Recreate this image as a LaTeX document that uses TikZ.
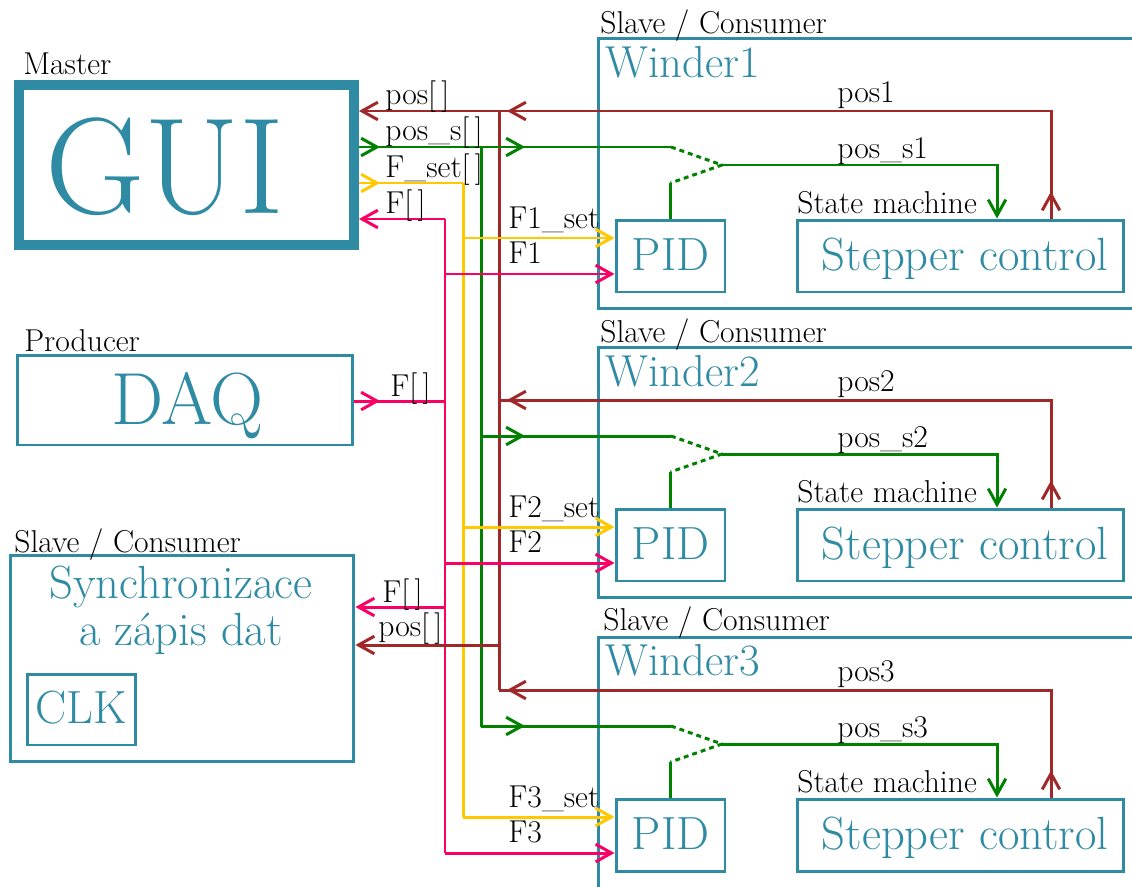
\documentclass[tikz,border=0pt]{standalone}
\usetikzlibrary{arrows.meta}
\definecolor{teal1}{RGB}{46,139,163}
\definecolor{wred}{RGB}{160,40,40}
\definecolor{wgreen}{RGB}{0,130,0}
\definecolor{wyellow}{RGB}{255,200,0}
\definecolor{wpink}{RGB}{250,0,100}
\tikzset{
 box/.style={draw=teal1, line width=1.7pt, rectangle, inner sep=0pt},
 lbl/.style={font=\fontsize{18}{21}\selectfont, inner sep=0pt, anchor=base west},
 ttl/.style={font=\fontsize{25.5}{30}\selectfont, text=teal1, inner sep=0pt, anchor=base west},
 big/.style={font=\fontsize{26.5}{30}\selectfont, text=teal1, inner sep=0pt, anchor=base},
 wire/.style={line width=1.7pt},
 tip/.style={-{Straight Barb[length=9pt,width=10pt]}},
 sw/.style={dash pattern=on 2.8pt off 2.3pt},
}
\begin{document}
\begin{tikzpicture}[x=0.02cm,y=-0.02cm]
\useasboundingbox (0,0) rectangle (1132,886);
\clip (0,0) rectangle (1132,886);
\fill[white] (0,0) rectangle (1132,886);

% left boxes
\node[box, line width=5.7pt, minimum width=6.70cm, minimum height=3.2cm] (gui) at (186.5,165) {};
\node[big, font=\fontsize{78}{86}\selectfont] (guit) at (165,213) {GUI};
\node[lbl] (mast) at (23,74) {Master};

\node[box, minimum width=6.72cm, minimum height=1.8cm] (daq) at (185,400) {};
\node[big, font=\fontsize{42}{48}\selectfont] (daqt) at (187.5,424) {DAQ};
\node[lbl] (prod) at (24,351) {Producer};

\node[box, minimum width=6.88cm, minimum height=4.14cm] (sync) at (182,658.5) {};
\node[big, font=\fontsize{26.5}{30}\selectfont] (synct1) at (181,598) {Synchronizace};
\node[big, font=\fontsize{26.5}{30}\selectfont] (synct2) at (181,645) {a zápis dat};
\node[lbl] (syncl) at (14,552) {Slave / Consumer};
\node[box, minimum width=2.18cm, minimum height=1.42cm] (clk) at (81.5,709.5) {};
\node[big] (clkt) at (81,723) {CLK};

% winder frames
\node[box, minimum width=10.94cm, minimum height=5.42cm] (w1) at (871.5,173.5) {};
\node[box, minimum width=10.94cm, minimum height=5.02cm] (w2) at (871.5,472.5) {};
\node[box, minimum width=10.94cm, minimum height=5.66cm] (w3) at (871.5,778.5) {};
\node[lbl] (wl1) at (600,33) {Slave / Consumer};
\node[lbl] (wl2) at (600,342) {Slave / Consumer};
\node[lbl] (wl3) at (603,630) {Slave / Consumer};
\node[ttl] (wt1) at (605,77) {Winder1};
\node[ttl] (wt2) at (605,386) {Winder2};
\node[ttl] (wt3) at (605,675) {Winder3};

% rails
\coordinate (rR) at (499,111);
\coordinate (rG) at (481,147);
\coordinate (rY) at (463,183);
\coordinate (rP) at (445,219);
\coordinate (rRe) at (499,690);
\coordinate (rGe) at (481,727);
\coordinate (rYe) at (463,817);
\coordinate (rPe) at (445,853);
\draw[wred,wire] (rR) -- (rRe);
\draw[wgreen,wire] (rG) -- (rGe);
\draw[wyellow,wire] (rY) -- (rYe);
\draw[wpink,wire] (rP) -- (rPe);

% GUI connections
\draw[wred,wire,tip] (rR) -- (rR -| gui.east);
\draw[wgreen,wire] (rG -| gui.east) -- (rG);
\draw[wgreen,wire,tip] (rG -| gui.east) -- (380,147);
\draw[wyellow,wire] (rY -| gui.east) -- (rY);
\draw[wyellow,wire,tip] (rY -| gui.east) -- (380,183);
\draw[wpink,wire,tip] (rP) -- (rP -| gui.east);
\node[lbl] (l1) at (385,104) {pos[\,]};
\node[lbl] (l2) at (385,140) {pos\_s[\,]};
\node[lbl] (l3) at (385,177) {F\_set[\,]};
\node[lbl] (l4) at (385,213) {F[\,]};

% DAQ connection
\coordinate (dP) at (445,401);
\draw[wpink,wire] (dP -| daq.east) -- (dP);
\draw[wpink,wire,tip] (dP -| daq.east) -- (380,401);
\node[lbl] (l5) at (390,396) {F[\,]};

% Sync connections
\coordinate (sP) at (445,607);
\coordinate (sR) at (499,645);
\draw[wpink,wire,tip] (sP) -- (sP -| sync.east);
\draw[wred,wire,tip] (sR) -- (sR -| sync.east);
\node[lbl] (l6) at (382,602) {F[\,]};
\node[lbl] (l7) at (378,636) {pos[\,]};

% winder internals
\foreach \i/\dy in {1/0,2/289,3/579}{
  \node[box, minimum width=2.18cm, minimum height=1.44cm] (pid\i) at (670.5,256+\dy) {};
  \node[big] (pidt\i) at (670.5,270+\dy) {PID};
  \node[box, minimum width=6.54cm, minimum height=1.44cm] (step\i) at (960.5,256+\dy) {};
  \node[big] (stept\i) at (965,270+\dy) {Stepper control};
  \node[lbl] (sm\i) at (797,213+\dy) {State machine};
  % red
  \coordinate (rj\i) at (499,111+\dy);
  \coordinate (rs\i) at (1051,111+\dy);
  \draw[wred,wire] (rj\i) -- (rs\i) -- (rs\i |- step\i.north);
  \draw[wred,wire,tip] (rs\i |- step\i.north) -- ++(0,-27);
  \draw[wred,wire,tip] (535,111+\dy) -- (507,111+\dy);
  \node[lbl] (pl\i) at (837,102+\dy) {pos\i};
  % green
  \coordinate (gj\i) at (481,147+\dy);
  \coordinate (gs\i) at (671,147+\dy);
  \coordinate (gm\i) at (722,165+\dy);
  \coordinate (gp\i) at (670.5,183+\dy);
  \coordinate (gt\i) at (997,165+\dy);
  \draw[wgreen,wire] (gj\i) -- (gs\i);
  \draw[wgreen,wire,tip] (500,147+\dy) -- (525,147+\dy);
  \draw[wgreen,wire,sw] (gs\i) -- (gm\i) -- (gp\i);
  \draw[wgreen,wire] (pid\i.north) -- (gp\i);
  \draw[wgreen,wire,tip] (gm\i) -- (gt\i) -- (gt\i |- step\i.north);
  \node[lbl] (psl\i) at (837,158+\dy) {pos\_s\i};
  % yellow / pink
  \coordinate (yj\i) at (463,238+\dy);
  \coordinate (pj\i) at (445,274+\dy);
  \draw[wyellow,wire,tip] (yj\i) -- (yj\i -| pid\i.west);
  \draw[wpink,wire,tip] (pj\i) -- (pj\i -| pid\i.west);
  \node[lbl] (fs\i) at (508,228+\dy) {F\i\_set};
  \node[lbl] (fl\i) at (508,263+\dy) {F\i};
}
\end{tikzpicture}
\end{document}
